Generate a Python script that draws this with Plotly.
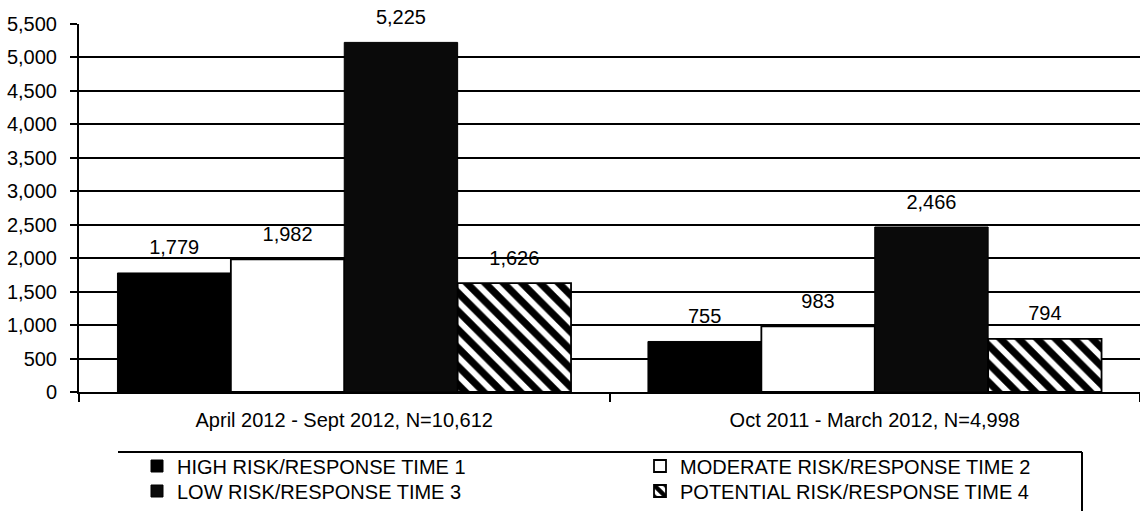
import plotly.graph_objects as go

# ---- data ----
categories = ["April 2012 - Sept 2012, N=10,612", "Oct 2011 - March 2012, N=4,998"]
series_names = [
    "HIGH RISK/RESPONSE TIME 1",
    "MODERATE RISK/RESPONSE TIME 2",
    "LOW RISK/RESPONSE TIME 3",
    "POTENTIAL RISK/RESPONSE TIME 4",
]
high_risk = [1779, 755]
moderate_risk = [1982, 983]
low_risk = [5225, 2466]
potential_risk = [1626, 794]
y_tick_values = [0, 500, 1000, 1500, 2000, 2500, 3000, 3500, 4000, 4500, 5000, 5500]
grid_values = [500, 1000, 1500, 2000, 2500, 3000, 3500, 4000, 4500, 5000]

series_values = [high_risk, moderate_risk, low_risk, potential_risk]

FONT = "Arial, 'Liberation Sans', sans-serif"
FS = 20
W, H = 1140, 511
ML, MR, MT, MB = 79, 0, 24, 119
PW, PH = W - ML - MR, H - MT - MB


def px_x(p):
    return (p - ML) / PW


def px_y(p):
    return (MT + PH - p) / PH


# legend placement (pixel positions of the legend start and row centres)
legend_pos = [(137, 466), (640, 466), (137, 491), (640, 491)]
legend_ids = ["legend", "legend2", "legend3", "legend4"]

styles = [
    dict(color="#000000", line=dict(color="#000000", width=1)),
    dict(color="#ffffff", line=dict(color="#000000", width=1.8)),
    dict(color="#0a0a0a", line=dict(color="#000000", width=1)),
    dict(color="#ffffff", line=dict(color="#000000", width=1.8),
         pattern=dict(shape="\\", fgcolor="#000000", bgcolor="#ffffff",
                      fgopacity=1, fillmode="replace",
                      size=13, solidity=0.55)),
]

fig = go.Figure()
for i, (name, vals) in enumerate(zip(series_names, series_values)):
    fig.add_trace(go.Bar(
        x=categories, y=vals, name=name, marker=styles[i],
        offsetgroup=str(i), legend=legend_ids[i], hoverinfo="y",
    ))

# value labels (grouped scatter text aligned with the bars)
for i, vals in enumerate(series_values):
    fig.add_trace(go.Scatter(
        x=categories, y=vals, mode="markers+text",
        text=[f"{v:,}" for v in vals], textposition="top center",
        textfont=dict(family=FONT, size=FS, color="#000000"),
        marker=dict(size=20, color="rgba(0,0,0,0)"),
        offsetgroup=str(i), showlegend=False, hoverinfo="skip",
        cliponaxis=False, orientation="v",
    ))

# invisible trace on overlay axis to carry the grid lines
fig.add_trace(go.Scatter(x=categories, y=[None, None], yaxis="y2",
                         showlegend=False, hoverinfo="skip"))

BARGAP = 0.145
layout_legends = {}
for lid, (lx, ly) in zip(legend_ids, legend_pos):
    layout_legends[lid] = dict(
        x=px_x(lx), y=px_y(ly), xanchor="left", yanchor="middle",
        orientation="v", bgcolor="rgba(0,0,0,0)", borderwidth=0,
        font=dict(family=FONT, size=FS, color="#000000"),
    )

fig.update_layout(
    width=W, height=H,
    margin=dict(l=ML, r=MR, t=MT, b=MB, pad=0, autoexpand=False),
    paper_bgcolor="#ffffff", plot_bgcolor="#ffffff",
    font=dict(family=FONT, size=FS, color="#000000"),
    barmode="group", bargap=BARGAP, bargroupgap=0,
    scattermode="group", scattergap=BARGAP,
    xaxis=dict(
        type="category", range=[-0.5, 1.5], automargin=False,
        showline=True, linecolor="#000000", linewidth=2,
        ticks="outside", tickson="boundaries", ticklen=8, tickwidth=2,
        tickcolor="#000000", showgrid=False, zeroline=False,
        tickfont=dict(family=FONT, size=FS), ticklabelstandoff=9,
    ),
    yaxis=dict(
        range=[0, 5500], tickvals=y_tick_values, tickformat=",d",
        automargin=False,
        showline=True, linecolor="#000000", linewidth=2,
        ticks="outside", ticklen=7, tickwidth=2, tickcolor="#000000",
        showgrid=False, zeroline=False,
        tickfont=dict(family=FONT, size=FS), ticklabelstandoff=9,
    ),
    yaxis2=dict(
        overlaying="y", range=[0, 5500], tickvals=grid_values,
        automargin=False,
        showgrid=True, gridcolor="#000000", gridwidth=2,
        showticklabels=False, ticks="", showline=False, zeroline=False,
    ),
    showlegend=True,
    **layout_legends,
)

# legend frame (top edge and right edge)
box_top = px_y(452)
box_bottom = px_y(H + 5)
box_left = px_x(118)
box_right = px_x(1082)
fig.add_shape(type="line", xref="paper", yref="paper",
              x0=box_left, x1=box_right, y0=box_top, y1=box_top,
              line=dict(color="#000000", width=2))
fig.add_shape(type="line", xref="paper", yref="paper",
              x0=box_right, x1=box_right, y0=box_top, y1=box_bottom,
              line=dict(color="#000000", width=2))

fig.write_html(
    "out.html",
    config={"displayModeBar": False},
    post_script="document.body.style.margin='0px';document.body.style.overflow='hidden';",
)
